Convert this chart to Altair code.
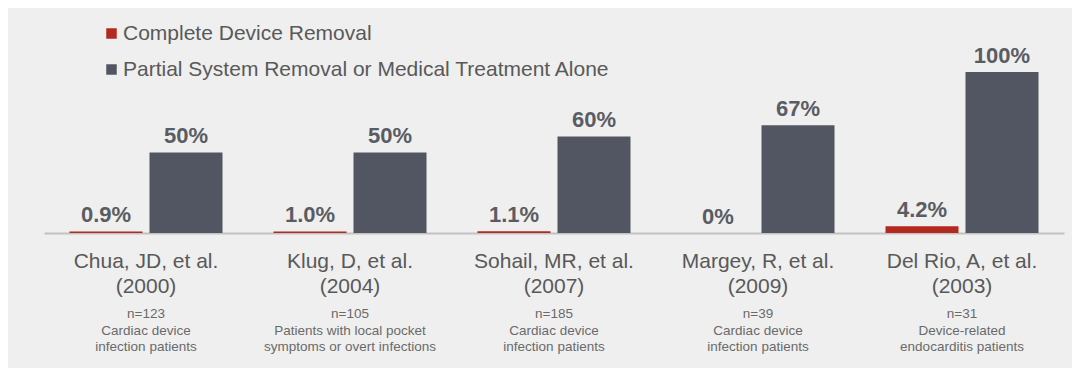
import altair as alt
import pandas as pd

studies = [
    "Chua, JD, et al.|(2000)",
    "Klug, D, et al.|(2004)",
    "Sohail, MR, et al.|(2007)",
    "Margey, R, et al.|(2009)",
    "Del Rio, A, et al.|(2003)",
]
sublabels = [
    "n=123|Cardiac device|infection patients",
    "n=105|Patients with local pocket|symptoms or overt infections",
    "n=185|Cardiac device|infection patients",
    "n=39|Cardiac device|infection patients",
    "n=31|Device-related|endocarditis patients",
]
series = ["Complete Device Removal", "Partial System Removal or Medical Treatment Alone"]
complete_vals = [0.9, 1.0, 1.1, 0.0, 4.2]
partial_vals = [50, 50, 60, 67, 100]
complete_labels = ["0.9%", "1.0%", "1.1%", "0%", "4.2%"]
partial_labels = ["50%", "50%", "60%", "67%", "100%"]
colors = ["#b3281f", "#525662"]

rows = []
for i, s in enumerate(studies):
    rows.append({"study": s, "series": series[0], "value": complete_vals[i], "label": complete_labels[i]})
    rows.append({"study": s, "series": series[1], "value": partial_vals[i], "label": partial_labels[i]})
df = pd.DataFrame(rows)
subdf = pd.DataFrame({"study": studies, "sub": sublabels})

FONT = "Liberation Sans"

x_enc = alt.X(
    "study:N",
    sort=studies,
    scale=alt.Scale(paddingInner=0.25, paddingOuter=0.125),
    axis=alt.Axis(
        title=None,
        labelExpr="split(datum.label, '|')",
        labelAngle=0,
        labelFont=FONT,
        labelFontSize=21,
        labelColor="#595959",
        labelLineHeight=25,
        labelPadding=17,
        labelLimit=400,
        ticks=False,
        domainColor="#c2c2c2",
        domainWidth=2,
        grid=False,
    ),
)
xoff = alt.XOffset("series:N", sort=series, scale=alt.Scale(paddingInner=0.0875))
y_enc = alt.Y("value:Q", scale=alt.Scale(domain=[0, 100]), axis=None)

base = alt.Chart(df)

bars = base.mark_bar().encode(
    x=x_enc,
    xOffset=xoff,
    y=y_enc,
    color=alt.Color(
        "series:N",
        sort=series,
        scale=alt.Scale(domain=series, range=colors),
        legend=alt.Legend(
            title=None,
            orient="none",
            legendX=57,
            legendY=-49,
            padding=0,
            symbolType="square",
            symbolSize=110,
            symbolStrokeWidth=0,
            labelFont=FONT,
            labelFontSize=21,
            labelColor="#595959",
            labelOffset=1,
            rowPadding=14,
            labelLimit=800,
        ),
    ),
)

values = base.mark_text(
    baseline="alphabetic",
    dy=-9.5,
    font=FONT,
    fontSize=22,
    fontWeight="bold",
    color="#5a5c63",
).encode(x=x_enc, xOffset=xoff, y=y_enc, text="label:N")

subs = alt.Chart(subdf).transform_calculate(
    lines="split(datum.sub, '|')"
).mark_text(
    baseline="alphabetic",
    font=FONT,
    fontSize=13.5,
    lineHeight=16.5,
    color="#6a6a6a",
).encode(
    x=alt.X("study:N", sort=studies),
    y=alt.value(246),
    text="lines:N",
)

chart = (
    alt.layer(bars, values, subs)
    .properties(
        width=1020,
        height=161,
        padding={"left": 36, "top": 64, "right": 8, "bottom": 135},
        autosize=alt.AutoSizeParams(type="none"),
        background="#efefef",
    )
    .configure_view(stroke=None)
)

chart.save("out.html", embed_options={"renderer": "svg", "actions": False})
